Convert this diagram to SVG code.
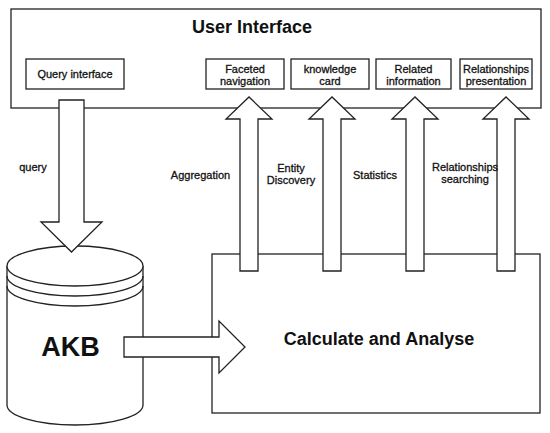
<svg xmlns="http://www.w3.org/2000/svg" width="550" height="433" viewBox="0 0 550 433">
<style>
.box{fill:#fff;stroke:#222;stroke-width:1.3}
.arr{fill:#fff;stroke:#222;stroke-width:1.3;stroke-linejoin:miter}
.t{font-family:"Liberation Sans",Arial,sans-serif;font-size:11px;fill:#111;stroke:#111;stroke-width:0.3;text-anchor:middle}
.tb{font-family:"Liberation Sans",Arial,sans-serif;font-weight:bold;fill:#111;text-anchor:middle}
</style>
<rect width="550" height="433" fill="#fff"/>
<g id="user-interface">
<rect class="box" x="11" y="9" width="530" height="99"/>
<text class="tb" x="252" y="33" font-size="18">User Interface</text>
</g>
<g id="query-interface">
<rect class="box" x="26" y="59" width="98" height="30"/>
<text class="t" x="75" y="78">Query interface</text>
</g>
<g id="faceted-navigation">
<rect class="box" x="206" y="59" width="78" height="30"/>
<text class="t" x="245" y="73">Faceted</text>
<text class="t" x="245" y="85">navigation</text>
</g>
<g id="knowledge-card">
<rect class="box" x="291" y="59" width="78" height="30"/>
<text class="t" x="330" y="73">knowledge</text>
<text class="t" x="330" y="85">card</text>
</g>
<g id="related-information">
<rect class="box" x="376" y="59" width="75" height="30"/>
<text class="t" x="413.5" y="73">Related</text>
<text class="t" x="413.5" y="85">information</text>
</g>
<g id="relationships-presentation">
<rect class="box" x="460" y="59" width="72" height="30"/>
<text class="t" x="496" y="73">Relationships</text>
<text class="t" x="496" y="85">presentation</text>
</g>
<g id="calculate-analyse">
<rect class="box" x="212" y="254" width="328" height="159"/>
<text class="tb" x="379" y="345" font-size="18">Calculate and Analyse</text>
</g>
<g id="akb">
<path class="box" d="M7,266 V405 A68,20 0 0 0 143,405 V266"/>
<ellipse class="box" cx="75" cy="266" rx="68" ry="20"/>
<path class="box" d="M7,276 A68,20 0 0 0 143,276 M7,286 A68,20 0 0 0 143,286" style="fill:none"/>
<text class="tb" x="70.5" y="356" font-size="27">AKB</text>
</g>
<g id="connectors">
<polygon class="arr" points="59,100 84,100 84,222 102,222 71.5,252 41,222 59,222"/>
<text class="t" x="33" y="171">query</text>
<polygon class="arr" points="124,337 219,337 219,321 245,347 219,373 219,357 124,357"/>
<polygon class="arr" points="240,271 240,119 226,119 249,97 272,119 258,119 258,271"/>
<polygon class="arr" points="323,271 323,119 309,119 332,97 355,119 341,119 341,271"/>
<polygon class="arr" points="406,271 406,119 392,119 415,97 438,119 424,119 424,271"/>
<polygon class="arr" points="497,271 497,119 483,119 506,97 529,119 515,119 515,271"/>
<text class="t" x="200.5" y="178.5">Aggregation</text>
<text class="t" x="291" y="172">Entity</text>
<text class="t" x="291" y="184">Discovery</text>
<text class="t" x="375" y="179">Statistics</text>
<text class="t" x="465" y="171">Relationships</text>
<text class="t" x="465" y="183">searching</text>
</g>
</svg>
